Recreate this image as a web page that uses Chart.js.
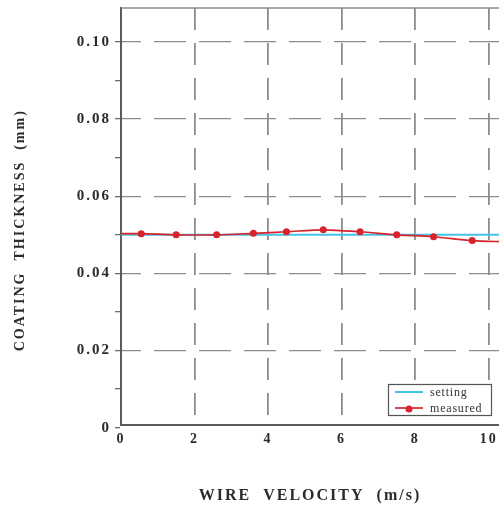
<!DOCTYPE html>
<html>
<head>
<meta charset="utf-8">
<script src="https://cdn.jsdelivr.net/npm/chart.js@4/dist/chart.umd.min.js"></script>
<style>
  html, body { margin: 0; padding: 0; background: #fff; }
  #wrap { width: 499px; height: 508px; }
</style>
</head>
<body>
<div id="wrap"><canvas id="c" width="499" height="508"></canvas></div>
<script>
// Wire velocity (m/s) and coating thickness (mm)
const velocity = [0, 0.55, 1.5, 2.6, 3.6, 4.5, 5.5, 6.5, 7.5, 8.5, 9.55, 10.5];
const measured = [0.0503, 0.0503, 0.0500, 0.0500, 0.0504, 0.0508, 0.0513, 0.0508, 0.0500, 0.0495, 0.0485, 0.0482];
const settingVelocity = [0, 10.5];
const setting = [0.05, 0.05];

// Axis ticks and labels
const xTickValues = [0, 2, 4, 6, 8, 10];
const xTickLabels = ['0', '2', '4', '6', '8', '10'];
const yTickValues = [0, 0.01, 0.02, 0.03, 0.04, 0.05, 0.06, 0.07, 0.08, 0.09, 0.10];
const yTickLabels = ['0', '', '0.02', '', '0.04', '', '0.06', '', '0.08', '', '0.10'];
const yMajor = [true, false, true, false, true, false, true, false, true, false, true];

const family = "'Liberation Serif', 'Times New Roman', serif";
const ink = '#2b2b2b';
const gridGray = '#8c8c8c';
const axisGray = '#5c5c5c';

const toPoints = (xs, ys) => xs.map((x, i) => ({ x: x, y: ys[i] }));

// Wide letter spacing for every label on the canvas
const textSpacing = {
  id: 'textSpacing',
  beforeUpdate(chart) { chart.ctx.letterSpacing = '2px'; },
  beforeLayout(chart) { chart.ctx.letterSpacing = '2px'; },
  beforeDraw(chart) { chart.ctx.letterSpacing = '2px'; }
};

// Solid frame line along the top of the plot
const frameTop = {
  id: 'frameTop',
  afterDraw(chart) {
    const { ctx, chartArea: a } = chart;
    ctx.save();
    ctx.strokeStyle = gridGray;
    ctx.lineWidth = 1.5;
    ctx.beginPath();
    ctx.moveTo(a.left, a.top);
    ctx.lineTo(a.right, a.top);
    ctx.stroke();
    ctx.restore();
  }
};

// Boxed legend in the lower right of the plot
const boxLegend = {
  id: 'boxLegend',
  afterDraw(chart) {
    const { ctx, chartArea: a } = chart;
    const x0 = a.left + 267, y0 = a.bottom - 41, w = 103, h = 31;
    ctx.save();
    ctx.fillStyle = '#fff';
    ctx.fillRect(x0, y0, w, h);
    ctx.strokeStyle = '#555';
    ctx.lineWidth = 1.2;
    ctx.strokeRect(x0 + 0.5, y0 + 0.5, w, h);
    ctx.font = '12px ' + family;
    ctx.letterSpacing = '0.8px';
    ctx.textBaseline = 'middle';
    ctx.textAlign = 'left';
    chart.data.datasets.forEach((ds, i) => {
      const y = y0 + 8 + i * 16;
      ctx.strokeStyle = ds.borderColor;
      ctx.lineWidth = ds.borderWidth;
      ctx.beginPath();
      ctx.moveTo(x0 + 7, y);
      ctx.lineTo(x0 + 35, y);
      ctx.stroke();
      if (ds.pointBackgroundColor) {
        ctx.fillStyle = ds.pointBackgroundColor;
        ctx.beginPath();
        ctx.arc(x0 + 21, y + 1, 3.5, 0, Math.PI * 2);
        ctx.fill();
      }
      ctx.fillStyle = '#333';
      ctx.fillText(ds.label, x0 + 42, y + 1);
    });
    ctx.restore();
  }
};

new Chart(document.getElementById('c'), {
  type: 'line',
  data: {
    datasets: [
      {
        label: 'setting',
        data: toPoints(settingVelocity, setting),
        borderColor: '#45c2e6',
        borderWidth: 2,
        pointRadius: 0,
        tension: 0,
        order: 1
      },
      {
        label: 'measured',
        data: toPoints(velocity, measured),
        borderColor: '#d8232c',
        borderWidth: 1.7,
        pointBackgroundColor: '#d8232c',
        pointBorderWidth: 0,
        pointRadius: ctx => (ctx.dataIndex === 0 ? 0 : 3.5),
        tension: 0.3,
        order: 0
      }
    ]
  },
  options: {
    responsive: false,
    animation: false,
    devicePixelRatio: 1,
    layout: { autoPadding: false, padding: { top: 8, right: 0, bottom: 0, left: 0 } },
    plugins: {
      legend: { display: false },
      tooltip: { enabled: false }
    },
    scales: {
      x: {
        type: 'linear',
        min: 0,
        max: 10.28,
        afterBuildTicks: s => { s.ticks = xTickValues.map(v => ({ value: v })); },
        afterFit: s => { s.height = 83; s.paddingLeft = 0; s.paddingRight = 0; },
        border: { display: true, color: axisGray, width: 2, dash: [22, 13] },
        grid: {
          color: c => (c.tick && c.tick.value === 0 ? 'rgba(0,0,0,0)' : gridGray),
          lineWidth: 1.8,
          drawTicks: false
        },
        ticks: {
          padding: 6,
          color: ink,
          font: { family: family, size: 14, weight: 'bold' },
          callback: (v, i) => xTickLabels[i]
        },
        title: {
          display: true,
          text: 'WIRE  VELOCITY  (m/s)',
          color: ink,
          font: { family: family, size: 16, weight: 'bold' },
          padding: { top: 30, bottom: 2.4 }
        }
      },
      y: {
        min: 0.0007,
        max: 0.1088,
        afterBuildTicks: s => { s.ticks = yTickValues.map(v => ({ value: v })); },
        afterFit: s => { s.width = 121; s.paddingTop = 0; s.paddingBottom = 0; },
        border: { display: true, color: axisGray, width: 2, dash: [32, 13], dashOffset: 13 },
        grid: {
          color: c => (c.index > 0 && yMajor[c.index] ? gridGray : 'rgba(0,0,0,0)'),
          lineWidth: 1.3,
          drawTicks: true,
          tickLength: 6,
          tickColor: '#6e6e6e',
          tickWidth: 1.3
        },
        ticks: {
          padding: 4,
          color: ink,
          font: { family: family, size: 15, weight: 'bold' },
          callback: (v, i) => yTickLabels[i]
        },
        title: {
          display: true,
          text: 'COATING  THICKNESS  (mm)     ',
          color: ink,
          font: { family: family, size: 14, weight: 'bold' },
          padding: { top: 12, bottom: 0 }
        }
      }
    }
  },
  plugins: [textSpacing, frameTop, boxLegend]
});
</script>
</body>
</html>
